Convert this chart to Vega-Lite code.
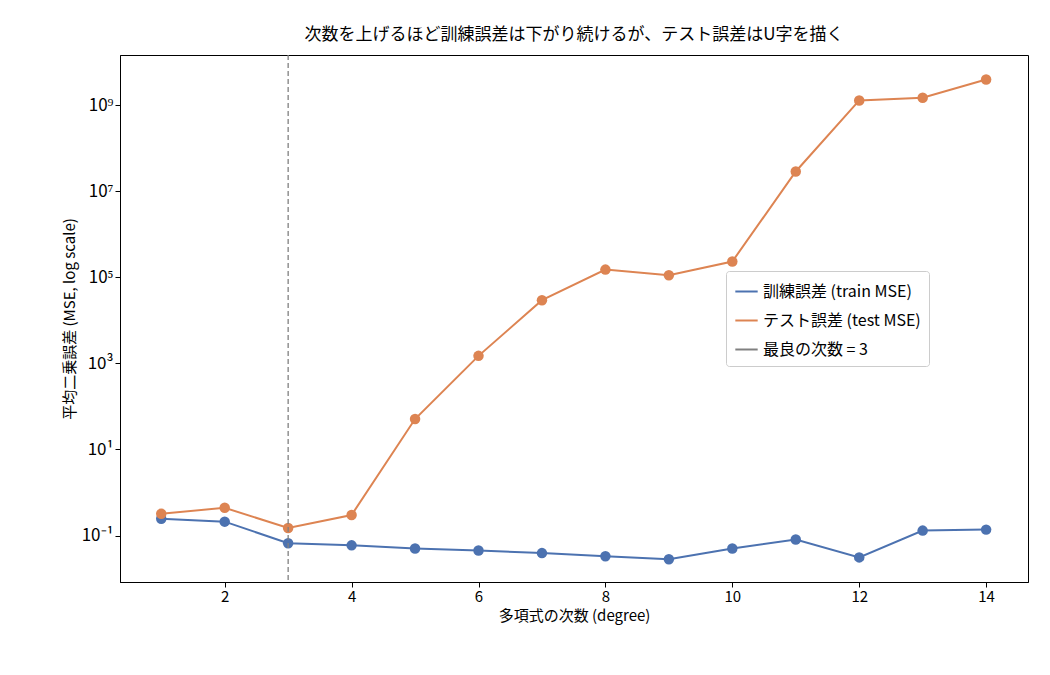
{
  "$schema": "https://vega.github.io/schema/vega-lite/v6.json",
  "autosize": {"type": "fit", "contains": "padding"},
  "width": 1050,
  "height": 675,
  "padding": {"left": 62, "right": 22, "top": 26, "bottom": 52},
  "background": "white",
  "config": {
    "font": "Noto Sans CJK JP",
    "view": {"stroke": "black", "strokeWidth": 1},
    "axis": {"labelFontSize": 15, "titleFontSize": 15, "labelColor": "black", "titleColor": "black", "grid": false, "domainColor": "black", "tickColor": "black", "titleFontWeight": "normal"}
  },
  "title": {"text": "次数を上げるほど訓練誤差は下がり続けるが、テスト誤差はU字を描く", "fontSize": 17, "fontWeight": "normal", "offset": 10},
  "data": {"values": [
    {"degree": 1, "mse": 0.245, "series": "訓練誤差 (train MSE)"},
    {"degree": 2, "mse": 0.21, "series": "訓練誤差 (train MSE)"},
    {"degree": 3, "mse": 0.066, "series": "訓練誤差 (train MSE)"},
    {"degree": 4, "mse": 0.059, "series": "訓練誤差 (train MSE)"},
    {"degree": 5, "mse": 0.05, "series": "訓練誤差 (train MSE)"},
    {"degree": 6, "mse": 0.045, "series": "訓練誤差 (train MSE)"},
    {"degree": 7, "mse": 0.039, "series": "訓練誤差 (train MSE)"},
    {"degree": 8, "mse": 0.033, "series": "訓練誤差 (train MSE)"},
    {"degree": 9, "mse": 0.028, "series": "訓練誤差 (train MSE)"},
    {"degree": 10, "mse": 0.05, "series": "訓練誤差 (train MSE)"},
    {"degree": 11, "mse": 0.081, "series": "訓練誤差 (train MSE)"},
    {"degree": 12, "mse": 0.031, "series": "訓練誤差 (train MSE)"},
    {"degree": 13, "mse": 0.13, "series": "訓練誤差 (train MSE)"},
    {"degree": 14, "mse": 0.137, "series": "訓練誤差 (train MSE)"},
    {"degree": 1, "mse": 0.32, "series": "テスト誤差 (test MSE)"},
    {"degree": 2, "mse": 0.44, "series": "テスト誤差 (test MSE)"},
    {"degree": 3, "mse": 0.15, "series": "テスト誤差 (test MSE)"},
    {"degree": 4, "mse": 0.30, "series": "テスト誤差 (test MSE)"},
    {"degree": 5, "mse": 51, "series": "テスト誤差 (test MSE)"},
    {"degree": 6, "mse": 1500, "series": "テスト誤差 (test MSE)"},
    {"degree": 7, "mse": 29500, "series": "テスト誤差 (test MSE)"},
    {"degree": 8, "mse": 152000, "series": "テスト誤差 (test MSE)"},
    {"degree": 9, "mse": 112000, "series": "テスト誤差 (test MSE)"},
    {"degree": 10, "mse": 234000, "series": "テスト誤差 (test MSE)"},
    {"degree": 11, "mse": 29000000, "series": "テスト誤差 (test MSE)"},
    {"degree": 12, "mse": 1300000000, "series": "テスト誤差 (test MSE)"},
    {"degree": 13, "mse": 1500000000, "series": "テスト誤差 (test MSE)"},
    {"degree": 14, "mse": 4000000000, "series": "テスト誤差 (test MSE)"}
  ]},
  "encoding": {
    "x": {"field": "degree", "type": "quantitative", "title": "多項式の次数 (degree)",
      "scale": {"domain": [0.35, 14.66], "nice": false, "zero": false},
      "axis": {"values": [2, 4, 6, 8, 10, 12, 14]}},
    "color": {"field": "series", "type": "nominal", "title": null,
      "scale": {"domain": ["訓練誤差 (train MSE)", "テスト誤差 (test MSE)", "最良の次数 = 3"], "range": ["#4c72b0", "#dd8452", "#808080"]},
      "legend": {"orient": "none", "legendX": 606, "legendY": 216, "labelFontSize": 16, "symbolType": "stroke", "symbolSize": 500, "symbolStrokeWidth": 2, "padding": 8, "strokeColor": "#cccccc", "fillColor": "white", "cornerRadius": 3, "rowPadding": 8, "labelColor": "black"}}
  },
  "layer": [
    {
      "mark": {"type": "line", "strokeWidth": 2},
      "encoding": {
        "y": {"field": "mse", "type": "quantitative", "title": "平均二乗誤差 (MSE, log scale)",
          "scale": {"type": "log", "domain": [0.0083, 14800000000], "nice": false},
          "axis": {"values": [0.1, 10, 1000, 100000, 10000000, 1000000000], "labelFontSize": 17,
            "labelExpr": "datum.value < 1 ? '10⁻¹' : datum.value < 100 ? '10¹' : datum.value < 10000 ? '10³' : datum.value < 1000000 ? '10⁵' : datum.value < 100000000 ? '10⁷' : '10⁹'"}}
      }
    },
    {
      "mark": {"type": "circle", "size": 110, "opacity": 1},
      "encoding": {"y": {"field": "mse", "type": "quantitative"}}
    },
    {
      "data": {"values": [{"degree": 3, "series": "最良の次数 = 3"}]},
      "mark": {"type": "rule", "strokeDash": [5, 3], "strokeWidth": 1.3},
      "encoding": {"x": {"field": "degree", "type": "quantitative"}}
    }
  ]
}
